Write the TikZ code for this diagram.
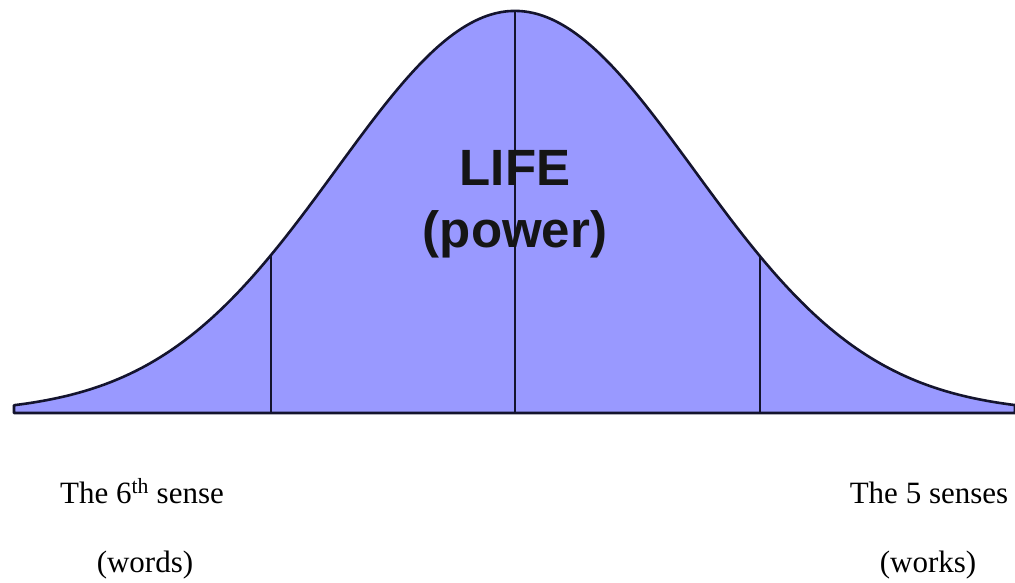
\documentclass[tikz,border=0pt]{standalone}
\usepackage{fontspec}
\setmainfont{Liberation Serif}
\newfontfamily\arialf{Liberation Sans}
\definecolor{bellfill}{HTML}{9999FF}
\definecolor{bellline}{HTML}{14142E}
\definecolor{lifetext}{HTML}{151515}
\tikzset{
  bell/.style={draw=bellline, line width=2.6pt, fill=bellfill, line join=round},
  divider/.style={draw=bellline, line width=2pt},
  bigtext/.style={font=\arialf\bfseries\fontsize{51}{62}\selectfont, align=center, text=lifetext, inner sep=0pt},
  caption/.style={font=\fontsize{31}{36}\selectfont, inner sep=0pt, anchor=base}
}
\begin{document}
\begin{tikzpicture}[x=1pt,y=-1pt]
\useasboundingbox (0,0) rectangle (1015,583);
\fill[white] (0,0) rectangle (1015,583);
% bell curve
\draw[bell] (14,413) -- plot[domain=14:1015, samples=200, smooth] (\x, {413-402*exp(-0.5*((\x-515)/178.5)^2)}) -- (1015,413) -- cycle;
% dividers
\coordinate (lb) at (271,413);
\coordinate (lt) at (271,255);
\coordinate (cb) at (515,413);
\coordinate (ct) at (515,11);
\coordinate (rb) at (760,413);
\coordinate (rt) at (760,255);
\draw[divider] (lb) -- (lt);
\draw[divider] (cb) -- (ct);
\draw[divider] (rb) -- (rt);
% center text
\node[bigtext, anchor=base] (life) at (515,247) {LIFE\\(power)};
% captions
\node[caption] (sixth) at (142,503) {The 6\textsuperscript{th} sense};
\node[caption] (words) at (145,572) {(words)};
\node[caption] (five) at (929,503) {The 5 senses};
\node[caption] (works) at (928,572) {(works)};
\end{tikzpicture}
\end{document}
